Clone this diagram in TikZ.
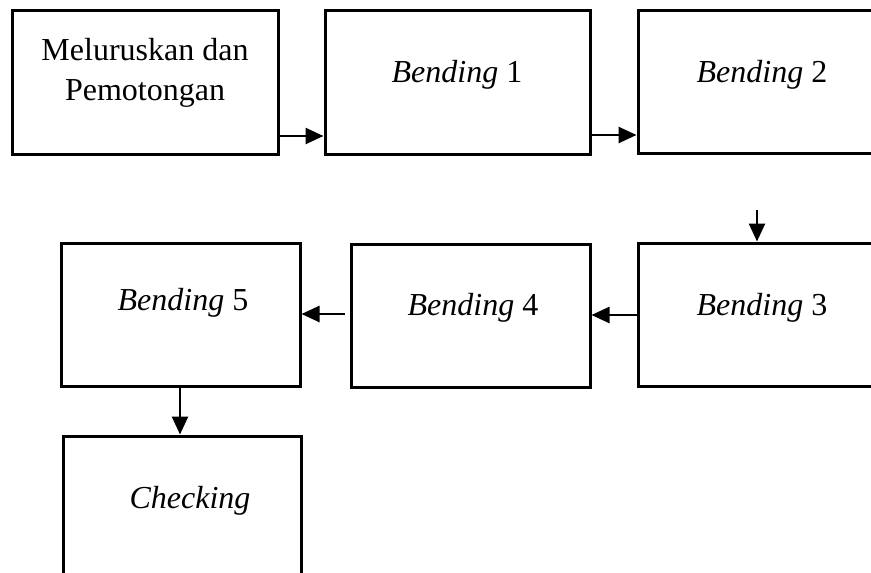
\documentclass[tikz,border=0pt]{standalone}
\usepackage{fontspec}
\setmainfont{Liberation Serif}
\usetikzlibrary{arrows.meta}
\begin{document}
\begin{tikzpicture}[x=1pt,y=-1pt,
  stagebox/.style={draw=black,line width=3pt,inner sep=0pt,minimum width=#1},
  lbl/.style={anchor=base,inner sep=0pt,font=\fontsize{32}{40}\selectfont,align=center},
  flow/.style={line width=2.6pt,-{Triangle[length=18pt,width=16pt]}}]
\useasboundingbox (0,0) rectangle (871,573);
\clip (0,0) rectangle (871,573);
% boxes
\node[stagebox=266pt,minimum height=144pt] (b1) at (145,82) {};
\node[stagebox=265pt,minimum height=144pt] (b2) at (457.5,82) {};
\node[stagebox=248pt,minimum height=143pt] (b3) at (762,81.5) {};
\node[stagebox=248pt,minimum height=143pt] (b4) at (762,314.5) {};
\node[stagebox=239pt,minimum height=143pt] (b5) at (470.5,315.5) {};
\node[stagebox=239pt,minimum height=143pt] (b6) at (180.5,314.5) {};
\node[stagebox=238pt,minimum height=144pt] (b7) at (182,508) {};
% texts
\node[lbl] (t1a) at (145,60) {Meluruskan dan};
\node[lbl] (t1b) at (145,100) {Pemotongan};
\node[lbl] (t2) at (457,82) {\textit{Bending} 1};
\node[lbl] (t3) at (762,82) {\textit{Bending} 2};
\node[lbl] (t4) at (762,315) {\textit{Bending} 3};
\node[lbl] (t5) at (473,315) {\textit{Bending} 4};
\node[lbl] (t6) at (183,310) {\textit{Bending} 5};
\node[lbl] (t7) at (190,508) {\textit{Checking}};
% connectors
\coordinate (s3) at (757,210);
\draw[flow] (b1.east |- 0,136) -- (b2.west |- 0,136);
\draw[flow] (b2.east |- 0,135) -- (b3.west |- 0,135);
\draw[flow] (s3) -- (s3 |- b4.north);
\draw[flow] (b4.west |- 0,315) -- (b5.east |- 0,315);
\draw[flow] ([xshift=-5pt]b5.west |- 0,314) -- (b6.east |- 0,314);
\draw[flow] (180,0 |- b6.south) -- (180,0 |- b7.north);
\end{tikzpicture}
\end{document}
